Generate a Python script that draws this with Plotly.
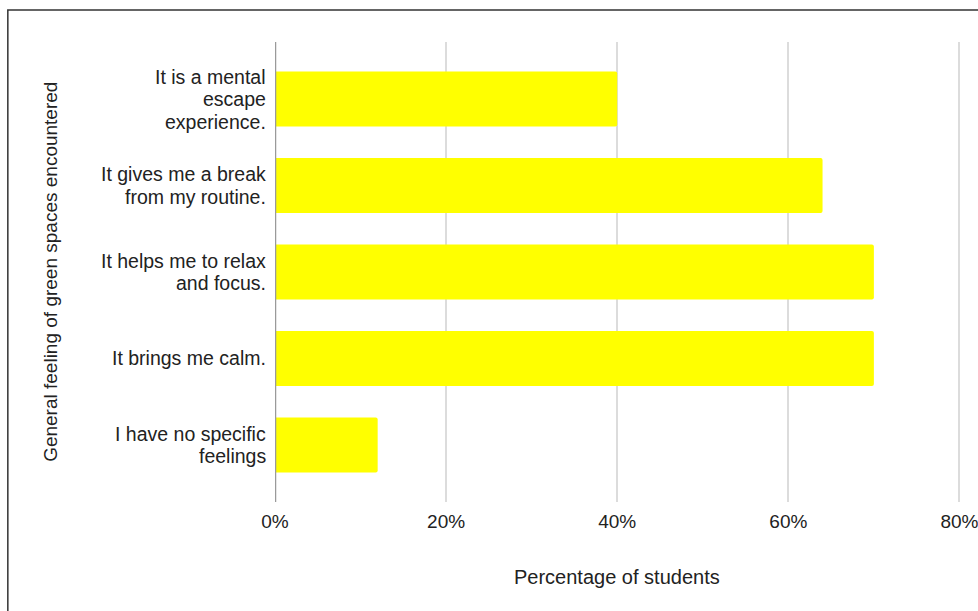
import plotly.graph_objects as go

# Survey responses: share of students choosing each statement
feelings = [
    ["It is a mental", "escape", "experience."],
    ["It gives me a break", "from my routine."],
    ["It helps me to relax", "and focus."],
    ["It brings me calm."],
    ["I have no specific", "feelings"],
]
share = [0.40, 0.64, 0.70, 0.70, 0.12]
tick_vals = [0, 0.2, 0.4, 0.6, 0.8]
tick_text = ["0%", "20%", "40%", "60%", "80%"]
x_title = "Percentage of students"
y_title = "General feeling of green spaces encountered"

W, H = 978, 611
X_MAX = 0.803                      # a hair past 80% so the last gridline is kept
PX_PER_UNIT = 684 / 0.8
L, T, B = 275, 42, 109
pw = X_MAX * PX_PER_UNIT
R = W - L - pw
ph = H - T - B

FONT = "Liberation Sans, Arial, sans-serif"
TXT = "#222222"
LABEL_SIZE = 19.5
LINE_STEP = 22.5

n = len(feelings)
pos = list(range(n))

fig = go.Figure(
    go.Bar(
        x=share,
        y=pos,
        orientation="h",
        marker=dict(color="#ffff00", line=dict(width=0)),
        hoverinfo="skip",
    )
)

# category labels, one annotation per text line, right-aligned next to the baseline
annotations = []
for i, lines in enumerate(feelings):
    k = len(lines)
    for j, line in enumerate(lines):
        annotations.append(dict(
            x=0, y=i, xref="x", yref="y",
            text=line, showarrow=False,
            xanchor="right", yanchor="middle", align="right",
            xshift=-7, yshift=-(j - (k - 1) / 2) * LINE_STEP,
            font=dict(size=LABEL_SIZE, color=TXT, family=FONT),
        ))

annotations.append(dict(
    x=0.4, y=(H - 577 - B) / ph, xref="x", yref="paper",
    text=x_title, showarrow=False, xanchor="center", yanchor="middle",
    font=dict(size=20, color=TXT, family=FONT),
))
annotations.append(dict(
    x=(50 - L) / pw, y=0.5, xref="paper", yref="paper",
    text=y_title, showarrow=False, xanchor="center", yanchor="middle",
    textangle=-90, font=dict(size=19, color=TXT, family=FONT),
))

fig.update_layout(
    width=W,
    height=H,
    margin=dict(l=L, r=R, t=T, b=B, pad=0),
    paper_bgcolor="white",
    plot_bgcolor="white",
    bargap=0.364,
    barcornerradius=2,
    showlegend=False,
    font=dict(family=FONT, color=TXT),
    xaxis=dict(
        range=[0, X_MAX],
        tickvals=tick_vals,
        ticktext=tick_text,
        showgrid=True,
        gridcolor="#dcdcdc",
        gridwidth=2,
        zeroline=False,
        showline=False,
        ticks="",
        ticklabelstandoff=6,
        ticklabeloverflow="allow",
        automargin=False,
        tickfont=dict(size=19, color=TXT),
    ),
    yaxis=dict(
        range=[n - 1 + 0.66, -0.66],
        showticklabels=False,
        showgrid=False,
        zeroline=False,
        showline=False,
        ticks="",
        automargin=False,
    ),
    annotations=annotations,
    shapes=[
        # baseline at 0%
        dict(type="line", xref="x", yref="paper", x0=0, x1=0, y0=0, y1=1,
             line=dict(color="#9a9a9a", width=2.5), layer="above"),
        # outer frame of the chart card
        dict(type="rect", xref="paper", yref="paper",
             x0=(8 - L) / pw, x1=(W + 20 - L) / pw,
             y0=-(H + 20 - T - ph) / ph, y1=(H - 10 - B) / ph,
             line=dict(color="#333333", width=1.5), fillcolor="rgba(0,0,0,0)"),
    ],
)

fig.write_html("out.html")
